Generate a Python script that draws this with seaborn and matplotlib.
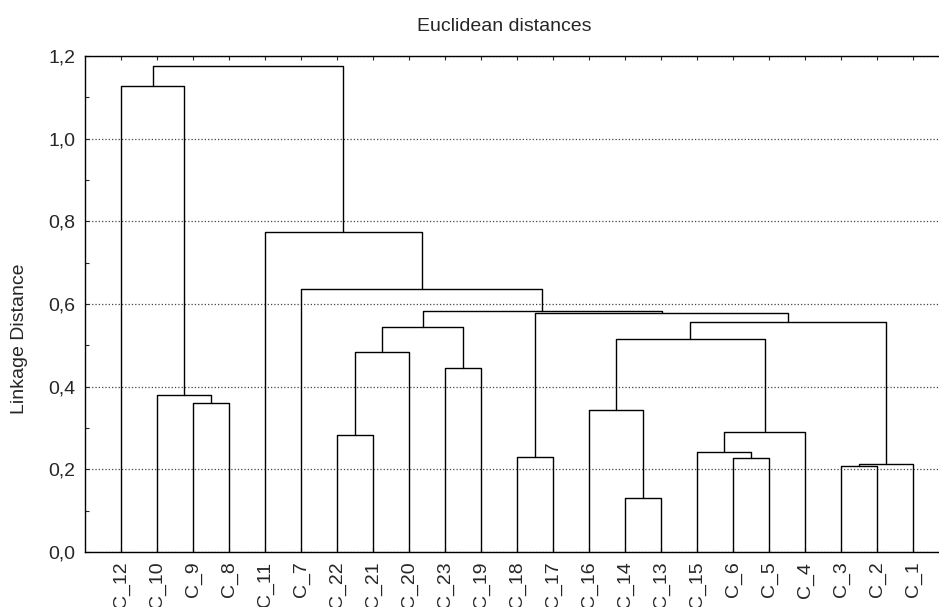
import numpy as np
import pandas as pd
import matplotlib
matplotlib.use('Agg')
import matplotlib.pyplot as plt
import seaborn as sns

# leaves in the order they appear along the x axis
leaves = ['C_12', 'C_10', 'C_9', 'C_8', 'C_11', 'C_7', 'C_22', 'C_21', 'C_20',
          'C_23', 'C_19', 'C_18', 'C_17', 'C_16', 'C_14', 'C_13', 'C_15', 'C_6',
          'C_5', 'C_4', 'C_3', 'C_2', 'C_1']

# linkage steps: ids 0..22 are leaves, merge k gets id 23+k
merge_a = [14, 20, 24, 17, 11, 16, 6, 28, 13, 2, 1, 9, 29, 31, 35, 36, 27, 37, 5, 4, 0, 43]
merge_b = [15, 21, 22, 18, 12, 26, 7, 19, 23, 3, 32, 10, 8, 30, 34, 25, 38, 39, 40, 41, 33, 42]
merge_h = [0.131, 0.207, 0.212, 0.228, 0.229, 0.242, 0.282, 0.291, 0.343, 0.360, 0.381,
           0.445, 0.485, 0.515, 0.544, 0.556, 0.579, 0.584, 0.636, 0.775, 1.128, 1.176]

yticks = [0.0, 0.2, 0.4, 0.6, 0.8, 1.0, 1.2]
ytick_labels = ['0,0', '0,2', '0,4', '0,6', '0,8', '1,0', '1,2']

# build the U shaped segments
n = len(leaves)
pos = {i: i + 1.0 for i in range(n)}
hgt = {i: 0.0 for i in range(n)}
rows = []
for k, (a, b, h) in enumerate(zip(merge_a, merge_b, merge_h)):
    xs = [pos[a], pos[a], pos[b], pos[b]]
    ys = [hgt[a], h, h, hgt[b]]
    for j in range(4):
        rows.append({'seg': k, 'order': j, 'x': xs[j], 'y': ys[j]})
    pos[n + k] = (pos[a] + pos[b]) / 2
    hgt[n + k] = h
segs = pd.DataFrame(rows)

sns.set_style('white')
plt.rcParams['font.family'] = ['Liberation Sans', 'DejaVu Sans']
plt.rcParams['font.size'] = 14

fig = plt.figure(figsize=(9.39, 6.07), dpi=100)
ax = fig.add_axes([85 / 939, 55 / 607, 864 / 939, 496 / 607])

sns.lineplot(data=segs, x='x', y='y', units='seg', estimator=None, sort=False,
             color='black', linewidth=1.0, ax=ax)

ax.set_xlim(0, n + 1)
ax.set_ylim(0, 1.2)
ax.set_xticks(range(1, n + 1))
ax.set_xticklabels(leaves, rotation=90, fontsize=14)
ax.set_yticks(yticks)
ax.set_yticklabels(ytick_labels, fontsize=14)
ax.set_yticks(np.arange(0.1, 1.2, 0.2), minor=True)
ax.tick_params(axis='x', direction='in', length=3, pad=7, top=True, bottom=True, width=0.8)
ax.tick_params(axis='y', which='both', direction='in', length=3, pad=7, left=True, width=0.8)
ax.yaxis.grid(True, linestyle=':', color='#444444', linewidth=0.9)
ax.set_axisbelow(True)
for s in ['left', 'bottom', 'top']:
    ax.spines[s].set_color('black')
    ax.spines[s].set_linewidth(1.0)
ax.spines['right'].set_visible(False)
ax.set_xlabel('')
ax.set_ylabel('')

fig.text(504 / 939, 1 - 30.7 / 607, 'Euclidean distances', ha='center', va='baseline', fontsize=14)
fig.text(20 / 939, 1 - 338.5 / 607, 'Linkage Distance', rotation=90, ha='center', va='center', fontsize=14)

fig.savefig('out.png', dpi=100)
